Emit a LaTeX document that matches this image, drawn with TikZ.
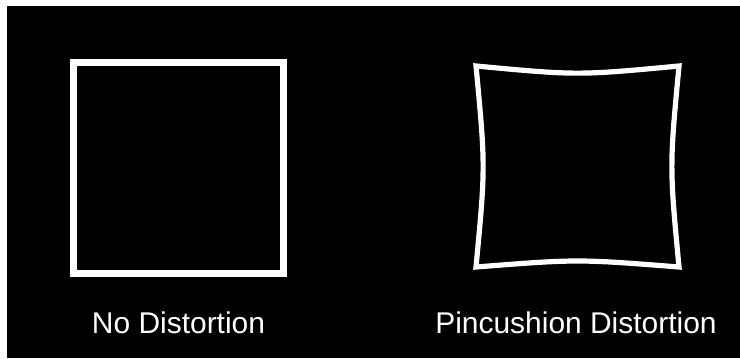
\documentclass[tikz,border=0pt]{standalone}
\usepackage{fontspec}
\setmainfont{Liberation Sans}
\usetikzlibrary{positioning}
\begin{document}
\begin{tikzpicture}[
    x=0.025cm, y=-0.025cm,
    frame/.style={draw=white, line width=0.175cm, line join=miter},
    warped/.style={draw=white, line width=0.13cm, line join=miter},
    caption/.style={text=white, anchor=base, inner sep=0pt, font=\fontsize{21.3pt}{25pt}\selectfont}
  ]
    % background
    \fill[white] (0,0) rectangle (740,358);
    \fill[black] (7,6) rectangle (740,358);
    % undistorted square
    \draw[frame] (73.5,62.5) rectangle (283.5,273);
    % pincushion square
    \draw[warped] (476,66) .. controls (577.5,75.5) .. (679,66)
      .. controls (669.5,166.5) .. (679,267)
      .. controls (577.5,259) .. (476,267)
      .. controls (485.5,166.5) .. cycle;
    % labels
    \node[caption] (plain) at (178.5,333) {No Distortion};
    \node[caption] (pin) at (576,333) {Pincushion Distortion};
  \end{tikzpicture}
\end{document}
